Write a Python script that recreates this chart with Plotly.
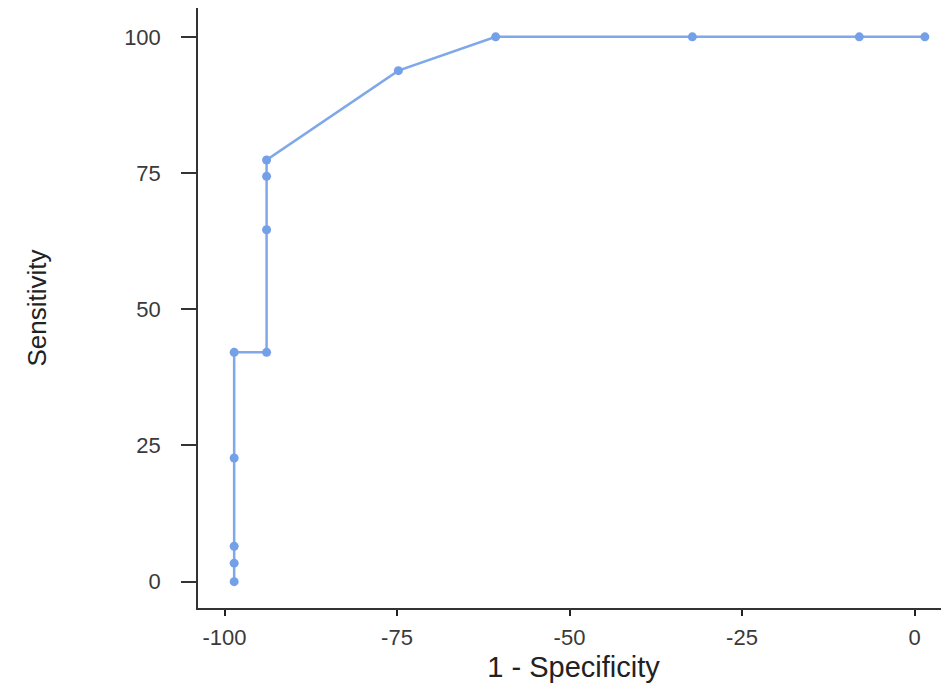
import plotly.graph_objects as go

# 1 - Specificity (as shown on the axis) and Sensitivity values
one_minus_spec = [-98.6, -98.6, -98.6, -98.6, -98.6, -93.9, -93.9, -93.9, -93.9,
                  -74.8, -60.7, -32.2, -8.0, 1.5]
sensitivity = [0.0, 3.4, 6.5, 22.7, 42.1, 42.1, 64.6, 74.4, 77.4,
               93.8, 100.0, 100.0, 100.0, 100.0]

x_ticks = [-100, -75, -50, -25, 0]
y_ticks = [0, 25, 50, 75, 100]

line_color = "#7EA8EA"

fig = go.Figure()
fig.add_trace(go.Scatter(
    x=one_minus_spec, y=sensitivity,
    mode="lines+markers",
    line=dict(color=line_color, width=2.5),
    marker=dict(color="#73A0E8", size=9, symbol="circle"),
    showlegend=False,
    hoverinfo="x+y",
))

font_family = "Liberation Sans, Arial, sans-serif"

# the page body adds an 8px offset, so the figure is 8px smaller and margins shifted
fig.update_layout(
    width=941, height=681,
    margin=dict(l=190, r=0, t=0, b=81, autoexpand=False),
    paper_bgcolor="white",
    plot_bgcolor="white",
    font=dict(family=font_family, color="#333333"),
    xaxis=dict(
        range=[-103.84, 5.0],
        tickmode="array", tickvals=x_ticks, ticktext=[str(v) for v in x_ticks],
        showgrid=False, zeroline=False,
        showline=True, linecolor="#333333", linewidth=1.5,
        ticks="outside", ticklen=6, tickwidth=2, tickcolor="#222222",
        ticklabelstandoff=3,
        tickfont=dict(size=22, color="#3a3a3a", family=font_family),
        title=dict(text="1 - Specificity", font=dict(size=29, color="#222222", family=font_family),
                   standoff=8),
        automargin=False,
    ),
    yaxis=dict(
        range=[-4.83, 105.3],
        tickmode="array", tickvals=y_ticks, ticktext=[str(v) for v in y_ticks],
        showgrid=False, zeroline=False,
        showline=True, linecolor="#333333", linewidth=1.5,
        ticks="outside", ticklen=15, tickwidth=2, tickcolor="#333333",
        ticklabelstandoff=16,
        tickfont=dict(size=22, color="#3a3a3a", family=font_family),
        title=dict(text="Sensitivity", font=dict(size=26, color="#222222", family=font_family),
                   standoff=70),
        automargin=False,
    ),
)

fig.write_html("out.html")
